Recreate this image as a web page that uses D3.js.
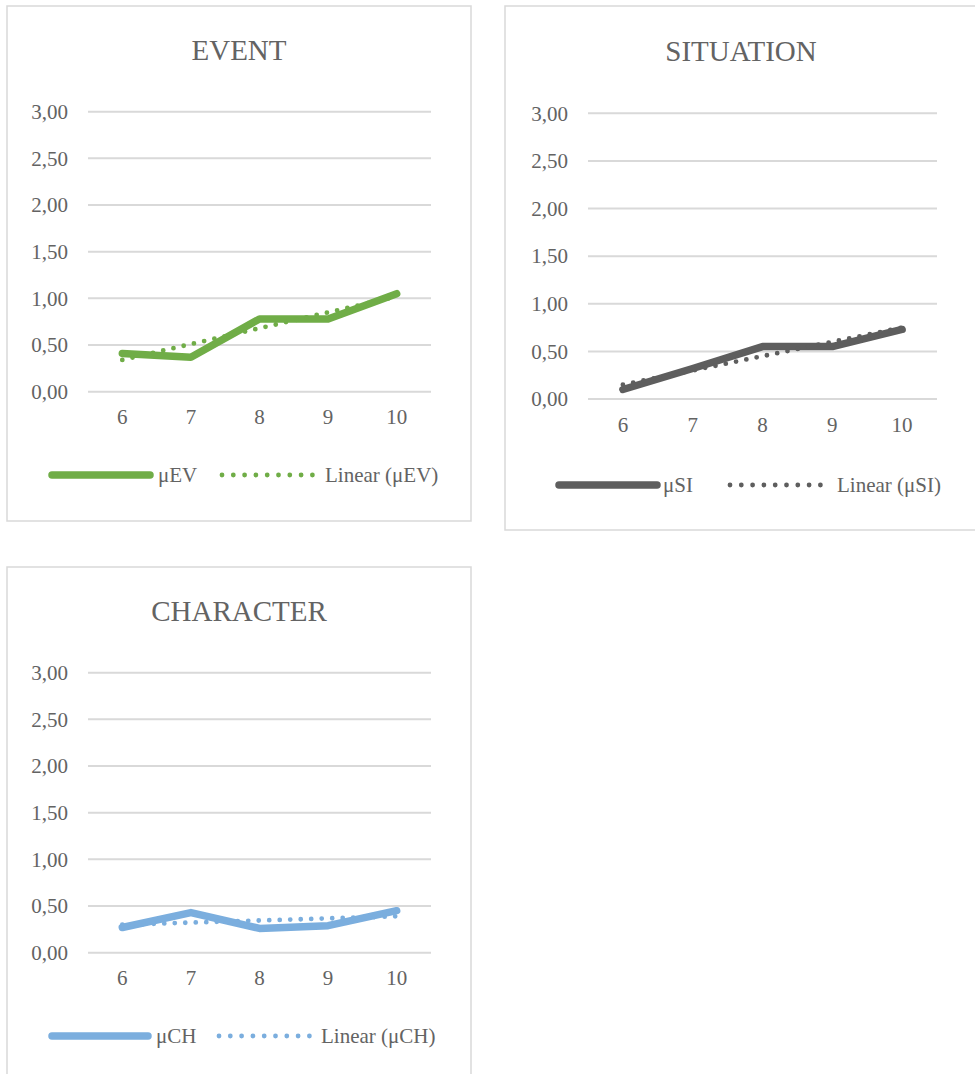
<!DOCTYPE html>
<html>
<head>
<meta charset="utf-8">
<script src="https://cdn.jsdelivr.net/npm/d3@7"></script>
<style>
  html, body { margin: 0; padding: 0; background: #ffffff; }
  svg { display: block; }
  text { font-family: "Liberation Serif", "Times New Roman", serif; fill: #636363; }
</style>
</head>
<body>
<svg id="chart" width="975" height="1074"></svg>
<script>
// ---- data ----
const categories = ["6", "7", "8", "9", "10"];
const yTicks = [0, 0.5, 1, 1.5, 2, 2.5, 3];

const titles = ["EVENT", "SITUATION", "CHARACTER"];
const seriesNames = ["μEV", "μSI", "μCH"];
const trendNames = ["Linear (μEV)", "Linear (μSI)", "Linear (μCH)"];
const colors = ["#70AD47", "#5E5E5E", "#7BAEDE"];

const eventValues = [0.41, 0.37, 0.78, 0.78, 1.05];
const situationValues = [0.10, 0.32, 0.55, 0.55, 0.73];
const characterValues = [0.27, 0.43, 0.26, 0.29, 0.45];

// linear trend line values at the first and last category
const eventTrend = [0.34, 1.02];
const situationTrend = [0.15, 0.75];
const characterTrend = [0.30, 0.39];

// ---- layout (positions only) ----
const layouts = [
  { box: [7, 6, 464, 515], plot: [88, 111.7, 431, 391.7], titleX: 239, titleY: 50, xLabY: 25,
    legY: 475, solid: [52, 150], txt1: 158, dots: 222, txt2: 325 },
  { box: [505, 6, 474, 524], plot: [588, 113.3, 937, 399], titleX: 741, titleY: 51, xLabY: 26,
    legY: 485, solid: [559, 657], txt1: 663, dots: 730, txt2: 837 },
  { box: [7, 567, 464, 520], plot: [88, 672.7, 431, 952.7], titleX: 239, titleY: 611, xLabY: 25,
    legY: 1036, solid: [52, 148], txt1: 156, dots: 219, txt2: 321 }
];

const valuesList = [eventValues, situationValues, characterValues];
const trendList = [eventTrend, situationTrend, characterTrend];

const svg = d3.select("#chart");
const fmt = d => d.toFixed(2).replace(".", ",");

layouts.forEach((L, i) => {
  const g = svg.append("g");
  const color = colors[i];
  const [bx, by, bw, bh] = L.box;
  g.append("rect").attr("x", bx).attr("y", by).attr("width", bw).attr("height", bh)
    .attr("fill", "#fff").attr("stroke", "#D9D9D9").attr("stroke-width", 1.5);

  const [x0, y0, x1, y1] = L.plot;
  const x = d3.scaleBand().domain(categories).range([x0, x1]);
  const y = d3.scaleLinear().domain([0, 3]).range([y1, y0]);

  // gridlines
  g.append("g").selectAll("line").data(yTicks).join("line")
    .attr("x1", x0).attr("x2", x1)
    .attr("y1", d => y(d)).attr("y2", d => y(d))
    .attr("stroke", "#D9D9D9").attr("stroke-width", 2);

  // y axis
  const ya = g.append("g").attr("transform", `translate(${x0},0)`)
    .call(d3.axisLeft(y).tickValues(yTicks).tickFormat(fmt).tickSize(0).tickPadding(20));
  ya.select(".domain").remove();
  ya.selectAll("text").attr("font-family", null).style("font-size", "21px").attr("fill", null);
  ya.attr("font-family", null).attr("font-size", null);

  // x axis
  const xa = g.append("g").attr("transform", `translate(0,${y1})`)
    .call(d3.axisBottom(x).tickSize(0));
  xa.select(".domain").remove();
  xa.attr("font-family", null).attr("font-size", null);
  xa.selectAll("text").attr("y", L.xLabY).attr("dy", "0.35em").style("font-size", "21px").attr("fill", null);

  // title
  g.append("text").attr("x", L.titleX).attr("y", L.titleY).attr("dy", "0.35em")
    .attr("text-anchor", "middle").style("font-size", "29px").text(titles[i]);

  const cx = c => x(c) + x.bandwidth() / 2;

  // series line
  const line = d3.line().x((d, j) => cx(categories[j])).y(d => y(d));
  g.append("path").datum(valuesList[i]).attr("d", line)
    .attr("fill", "none").attr("stroke", color).attr("stroke-width", 7.5)
    .attr("stroke-linecap", "round").attr("stroke-linejoin", "round");

  // trend line
  const tr = trendList[i];
  const trendPts = [[categories[0], tr[0]], [categories[categories.length - 1], tr[1]]];
  g.append("path").datum(trendPts)
    .attr("d", d3.line().x(d => cx(d[0])).y(d => y(d[1])))
    .attr("fill", "none").attr("stroke", color).attr("stroke-width", 4.8)
    .attr("stroke-linecap", "round").attr("stroke-dasharray", "0 10.5");

  // legend
  g.append("line").attr("x1", L.solid[0]).attr("x2", L.solid[1])
    .attr("y1", L.legY).attr("y2", L.legY)
    .attr("stroke", color).attr("stroke-width", 7.5).attr("stroke-linecap", "round");
  g.append("text").attr("x", L.txt1).attr("y", L.legY).attr("dy", "0.35em")
    .style("font-size", "21px").text(seriesNames[i]);
  const sp = 11.3;
  g.append("line").attr("x1", L.dots).attr("x2", L.dots + 8 * sp + 0.01)
    .attr("y1", L.legY).attr("y2", L.legY)
    .attr("stroke", color).attr("stroke-width", 4.8).attr("stroke-linecap", "round")
    .attr("stroke-dasharray", `0 ${sp}`);
  g.append("text").attr("x", L.txt2).attr("y", L.legY).attr("dy", "0.35em")
    .style("font-size", "21px").text(trendNames[i]);
});
</script>
</body>
</html>
